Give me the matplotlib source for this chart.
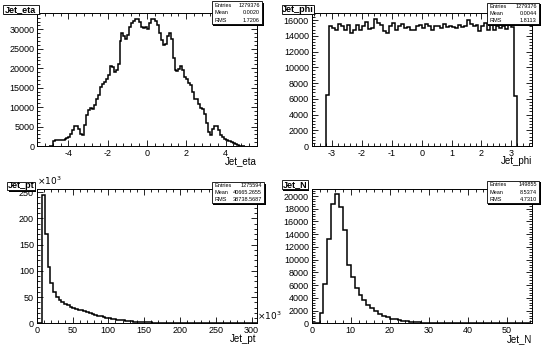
import numpy as np
import matplotlib
matplotlib.use("Agg")
import matplotlib.pyplot as plt
from matplotlib.patches import Rectangle
from matplotlib.ticker import MultipleLocator

plt.rcParams["font.family"] = ["Liberation Sans", "DejaVu Sans"]
plt.rcParams["axes.unicode_minus"] = False

W, H = 550, 355

# ---- data ----
# Jet_eta: 0.1 wide bins from -5.0 to 5.0
eta_lo, eta_hi = -5.0, 5.0
eta_counts = [
    0, 0, 1300, 1500, 1500, 1500, 1600, 1600, 1800, 2000,
    2300, 3000, 4200, 5200, 5100, 4400, 3100, 2900, 5500, 8000,
    9300, 9700, 9600, 10500, 12000, 13000, 15200, 16000, 16500, 17300,
    18200, 20700, 20200, 19000, 19500, 21000, 27000, 29000, 28200, 27500,
    28600, 30500, 31500, 32200, 32600, 32600, 32000, 30500, 30400, 30600,
    30200, 31500, 32600, 32700, 32200, 31200, 29000, 27200, 26000, 26100,
    28200, 29000, 27600, 22500, 19600, 19400, 19800, 20500, 19600, 17800,
    17200, 16300, 15600, 13800, 12100, 12000, 10800, 9800, 9600, 8200,
    5800, 3600, 2900, 4400, 5100, 5200, 4100, 2900, 2200, 1800,
    1500, 1400, 1300, 1100, 900, 600, 200, 0, 0, 0,
]
eta_stats = [("Entries", "1279376"), ("Mean", "0.0020"), ("RMS", "1.7206")]

# Jet_phi: 0.1 wide bins from -3.2 to 3.2
phi_lo, phi_hi = -3.2, 3.2
phi_counts = [
    6500,
    15300, 15000, 14800, 15500, 15300, 14800, 15400, 14400, 14700, 15400,
    14700, 15300, 15800, 14900, 15000, 16100, 15600, 15400, 14600, 14300,
    15200, 15600, 14800, 15200, 15500, 15000, 15100, 14800, 14700, 15300,
    15400, 15000, 15500, 15300, 14800, 15200, 15300, 15000, 15500, 15100,
    15300, 15100, 15000, 15400, 15100, 15300, 16000, 15500, 15200, 15400,
    14600, 15200, 15600, 14700, 15400, 14800, 15300, 15000, 15200, 14900,
    15500, 15100,
    6300,
]
phi_stats = [("Entries", "1279376"), ("Mean", "0.0044"), ("RMS", "1.8113")]

# Jet_pt (x10^3 on both axes): 80 bins from 0 to 307.2
pt_lo, pt_hi = 0.0, 307.2
pt_counts = [
    0, 0, 244, 171, 108, 76, 60, 50, 44, 40,
    37, 34, 32, 30, 28, 26, 24.5, 22.5, 21, 19,
    17.5, 16, 14.5, 13, 12, 10.8, 9.7, 8.7, 7.8, 7,
    6.2, 5.5, 4.9, 4.3, 3.8, 3.4, 3.0, 2.6, 2.3, 2.0,
    1.8, 1.6, 1.4, 1.2, 1.05, 0.92, 0.8, 0.7, 0.6, 0.52,
    0.45, 0.4, 0.35, 0.3, 0.26, 0.22, 0.19, 0.16, 0.14, 0.12,
    0.1, 0.09, 0.08, 0.07, 0.06, 0.05, 0.04, 0.035, 0.03, 0.025,
    0.02, 0.02, 0.015, 0.01, 0.01, 0.01, 0.005, 0.005, 0.005, 0,
]
pt_stats = [("Entries", "1275594"), ("Mean", "40665.2655"), ("RMS", "38738.5687")]

# Jet_N: unit bins from 0 to 56
n_lo, n_hi = 0, 56
n_counts = [
    0, 0, 1600, 6100, 13300, 18800, 20300, 18200, 14700, 9100,
    7300, 5600, 4500, 3700, 2900, 2400, 1900, 1500, 1200, 950,
    750, 600, 480, 380, 300, 230, 180, 140, 110, 85,
    65, 50, 40, 30, 22, 16, 12, 9, 6, 4,
    3, 2, 1, 1, 0, 0, 0, 0, 0, 0,
    0, 0, 0, 0, 0, 0,
]
n_stats = [("Entries", "149855"), ("Mean", "8.5374"), ("RMS", "4.7310")]


def fbox(x0, y0, x1, y1):
    # pixel box (top-left origin) -> figure fraction [l, b, w, h]
    return [x0 / W, 1 - y1 / H, (x1 - x0) / W, (y1 - y0) / H]


fig = plt.figure(figsize=(W / 100, H / 100), dpi=100)


def panel(px, lo, hi, counts, xlim, ylim, xt, yt, xlabel):
    ax = fig.add_axes(fbox(*px))
    edges = np.linspace(lo, hi, len(counts) + 1)
    ax.stairs(counts, edges, color="black", lw=1.1)
    ax.set_xlim(xlim)
    ax.set_ylim(ylim)
    ax.xaxis.set_major_locator(MultipleLocator(xt[0]))
    ax.xaxis.set_minor_locator(MultipleLocator(xt[1]))
    ax.yaxis.set_major_locator(MultipleLocator(yt[0]))
    ax.yaxis.set_minor_locator(MultipleLocator(yt[1]))
    ax.tick_params(which="both", direction="in", top=True, right=True,
                   labelsize=6.5, width=0.6, pad=2)
    ax.tick_params(which="major", length=4)
    ax.tick_params(which="minor", length=2)
    for s in ax.spines.values():
        s.set_linewidth(0.7)
    ax.text(1.0, -0.115, xlabel, transform=ax.transAxes, ha="right",
            va="center", fontsize=7)
    return ax


def framed(x0, y0, x1, y1):
    sh = Rectangle((x0 / W + 1.2 / W, 1 - y1 / H - 1.2 / H), (x1 - x0) / W,
                   (y1 - y0) / H, transform=fig.transFigure, fc="black",
                   ec="none", zorder=9)
    fig.add_artist(sh)
    r = Rectangle((x0 / W, 1 - y1 / H), (x1 - x0) / W, (y1 - y0) / H,
                  transform=fig.transFigure, fc="white", ec="black",
                  lw=0.6, zorder=10)
    fig.add_artist(r)


def stat_box(x0, y0, x1, y1, rows):
    framed(x0, y0, x1, y1)
    for i, (k, v) in enumerate(rows):
        yc = y0 + (i + 0.5) * (y1 - y0) / 3
        fig.text((x0 + 2.5) / W, 1 - yc / H, k, fontsize=4.0,
                 va="center", ha="left", zorder=11)
        fig.text((x1 - 2.5) / W, 1 - yc / H, v, fontsize=4.0,
                 va="center", ha="right", zorder=11)


def title_box(x0, y0, x1, y1, text):
    framed(x0, y0, x1, y1)
    fig.text((x0 + x1) / 2 / W, 1 - (y0 + y1) / 2 / H, text, fontsize=6.5,
             fontweight="bold", ha="center", va="center", zorder=11)


panel((37, 13, 257, 146), eta_lo, eta_hi, eta_counts, (-5.6, 5.6),
      (0, 34200), (2, 0.4), (5000, 1000), "Jet_eta")
panel((311.7, 13, 531.7, 146), phi_lo, phi_hi, phi_counts, (-3.68, 3.68),
      (0, 16900), (1, 0.2), (2000, 400), "Jet_phi")
ax_pt = panel((36.7, 188.5, 256.7, 323.3), pt_lo, pt_hi, pt_counts,
              (0, 307.2), (0, 257), (50, 10), (50, 10), "Jet_pt")
panel((311.7, 189, 531.7, 323.3), n_lo, n_hi, n_counts, (0, 56.4),
      (0, 21100), (10, 2), (2000, 400), "Jet_N")

ax_pt.text(0.0, 1.01, r"$\times10^{3}$", transform=ax_pt.transAxes,
           ha="left", va="bottom", fontsize=6.5)
ax_pt.text(1.0, 0.01, r"$\times10^{3}$", transform=ax_pt.transAxes,
           ha="left", va="bottom", fontsize=6.5)

stat_box(211.7, 1.5, 262.3, 24.3, eta_stats)
stat_box(486.7, 2.7, 539.3, 24.3, phi_stats)
stat_box(211.7, 182.3, 264.3, 203.3, pt_stats)
stat_box(486.7, 181, 539.3, 203.3, n_stats)

title_box(3.3, 5, 38.5, 13.5, "Jet_eta")
title_box(281.7, 5, 313.5, 13.5, "Jet_phi")
title_box(7.3, 181.7, 35, 190.3, "Jet_pt")
title_box(282, 180.5, 308, 189.5, "Jet_N")

fig.savefig("out.png", dpi=100)
